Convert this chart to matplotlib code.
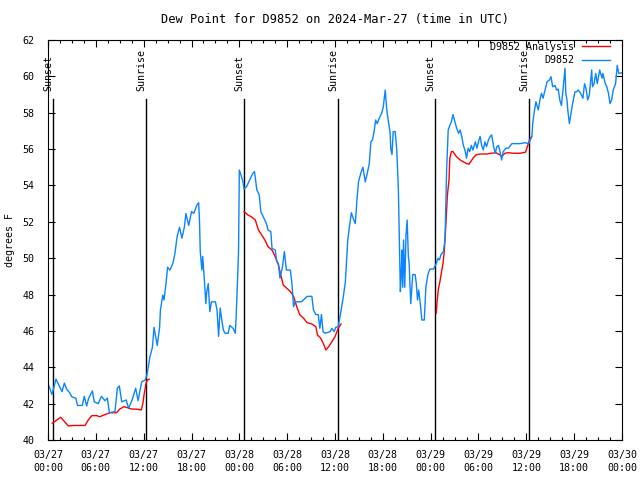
import matplotlib
matplotlib.use('Agg')
import matplotlib.pyplot as plt
import numpy as np

# hours since 2024-03-27 00:00 UTC
obs_hours = [0.0, 0.5, 1.0, 1.5, 1.76, 2.05, 2.34, 2.76, 2.97, 3.5, 3.7, 4.3, 4.55, 4.85, 5.1,
             5.57, 5.8, 6.3, 6.7, 7.15, 7.45, 7.7, 8.4, 8.7, 8.95, 9.25, 9.8, 10.1, 10.5, 11.0,
             11.3, 11.75, 12.2, 12.4, 12.8, 13.1, 13.3, 13.7, 14.0, 14.1, 14.4, 14.55, 14.8, 15.0,
             15.3, 15.65, 15.9, 16.2, 16.5, 16.8, 17.1, 17.3, 17.65, 18.0, 18.3, 18.65, 18.9, 19.0,
             19.1, 19.3, 19.4, 19.6, 19.8, 19.9, 20.1, 20.3, 20.5, 21.0, 21.2, 21.4, 21.6, 21.8,
             22.0, 22.2, 22.6, 22.8, 23.2, 23.5, 23.6, 23.75, 23.9, 24.0, 24.2, 24.4, 24.6, 24.9,
             25.3, 25.7, 25.9, 26.2, 26.5, 26.7, 27.0, 27.4, 27.6, 27.95, 28.1, 28.5, 28.7, 28.9,
             29.1, 29.4, 29.65, 29.9, 30.4, 30.6, 30.8, 31.0, 31.8, 32.5, 33.1, 33.3, 33.6, 33.9,
             34.1, 34.3, 34.5, 34.75, 35.4, 35.6, 35.9, 36.1, 36.4, 36.7, 37.05, 37.3, 37.45, 37.6,
             37.8, 38.05, 38.35, 38.55, 38.75, 38.95, 39.25, 39.5, 39.8, 40.05, 40.3, 40.5, 40.7,
             40.9, 41.1, 41.3, 41.55, 41.85, 42.05, 42.3, 42.5, 42.7, 42.9, 43.0, 43.15, 43.3,
             43.55, 43.75, 43.95, 44.1, 44.2, 44.3, 44.4, 44.5, 44.6, 44.75, 44.9, 45.05, 45.2,
             45.3, 45.5, 45.75, 46.05, 46.2, 46.35, 46.5, 46.7, 46.9, 47.2, 47.4, 47.65, 47.9,
             48.35, 48.7, 48.9, 49.1, 49.3, 49.6, 49.8, 50.0, 50.2, 50.4, 50.6, 50.8, 51.1, 51.3,
             51.5, 51.7, 51.9, 52.1, 52.3, 52.5, 52.7, 52.9, 53.1, 53.3, 53.6, 53.8, 54.0, 54.2,
             54.4, 54.6, 54.8, 55.0, 55.25, 55.45, 55.65, 55.9, 56.1, 56.3, 56.5, 56.7, 56.9, 57.1,
             57.45, 57.75, 58.2, 58.8, 59.2, 59.85, 60.3, 60.5, 60.7, 60.8, 61.0, 61.1, 61.2, 61.5,
             61.7, 61.9, 62.1, 62.35, 62.6, 62.9, 63.1, 63.3, 63.6, 63.8, 64.0, 64.2, 64.4, 64.6,
             64.85, 64.95, 65.1, 65.2, 65.4, 65.6, 65.8, 66.1, 66.3, 66.5, 66.8, 67.1, 67.3, 67.5,
             67.7, 67.9, 68.2, 68.3, 68.5, 68.7, 68.9, 69.2, 69.5, 69.6, 69.9, 70.1, 70.3, 70.5,
             70.7, 70.9, 71.2, 71.4, 71.6, 72.0]
obs_dewpt = [43.1, 42.5, 43.35, 42.9, 42.66, 43.13, 42.8, 42.57, 42.38, 42.3, 41.9, 41.9, 42.4,
             41.87, 42.3, 42.7, 42.1, 42.0, 42.4, 42.16, 42.3, 41.5, 41.56, 42.85, 42.97, 42.1,
             42.2, 41.75, 42.14, 42.85, 42.16, 43.2, 43.3, 43.57, 44.6, 45.1, 46.2, 45.2, 46.2,
             47.15, 47.97, 47.7, 48.6, 49.5, 49.35, 49.7, 50.2, 51.2, 51.7, 51.1, 51.7, 52.45,
             51.8, 52.56, 52.47, 52.9, 53.05, 52.1, 50.36, 49.35, 50.1, 48.9, 47.5, 48.1, 48.6,
             47.06, 47.6, 47.6, 47.15, 45.7, 47.26, 46.6, 46.05, 45.87, 45.87, 46.3, 46.15, 45.87,
             46.8, 48.5, 50.36, 54.85, 54.57, 54.3, 53.8, 53.93, 54.3, 54.67, 54.76, 53.75, 53.47,
             52.56, 52.28, 51.9, 51.55, 51.46, 50.54, 50.45, 49.8, 49.7, 48.9, 49.5, 50.36, 49.35,
             49.35, 48.6, 47.33, 47.6, 47.6, 47.9, 47.9, 47.15, 46.9, 46.9, 46.14, 46.9, 45.96,
             45.87, 45.96, 46.14, 45.96, 46.2, 46.23, 46.97, 47.9, 48.7, 49.8, 51.0, 51.7, 52.5,
             52.1, 51.9, 53.2, 54.2, 54.7, 55.0, 54.2, 54.67, 55.2, 56.4, 56.5, 56.96, 57.6, 57.4,
             57.7, 57.97, 58.3, 59.25, 58.15, 57.5, 56.96, 56.0, 55.7, 56.96, 56.96, 55.95, 53.75,
             50.45, 48.16, 48.98, 50.45, 48.4, 51.0, 48.4, 51.2, 52.1, 50.1, 49.7, 47.5, 49.1,
             49.1, 48.6, 47.7, 48.25, 47.5, 46.6, 46.6, 48.4, 49.1, 49.4, 49.4, 49.7, 50.0, 49.9,
             50.2, 50.36, 51.0, 54.85, 57.05, 57.3, 57.5, 57.9, 57.4, 57.1, 56.87, 57.05, 56.7,
             56.2, 55.95, 55.5, 56.05, 55.86, 56.2, 55.95, 56.4, 56.05, 56.4, 56.7, 56.2, 55.95,
             56.4, 56.13, 56.5, 56.68, 56.78, 56.13, 55.77, 56.13, 56.2, 55.86, 55.4, 55.86, 56.05,
             56.05, 56.3, 56.3, 56.3, 56.35, 56.3, 56.5, 56.7, 57.4, 58.06, 58.33, 58.6, 58.15,
             58.7, 59.07, 58.8, 59.25, 59.7, 59.8, 59.98, 59.43, 59.5, 59.25, 59.3, 58.7, 58.4,
             59.25, 60.45, 59.07, 58.7, 58.15, 57.4, 57.97, 58.5, 59.15, 59.15, 59.25, 59.07, 58.8,
             59.6, 59.3, 58.7, 58.98, 60.35, 59.43, 59.6, 60.16, 59.6, 60.35, 59.9, 60.16, 59.6,
             59.43, 59.07, 58.5, 58.7, 59.25, 59.6, 60.6, 60.16, 60.2]

# analysis, only shown for the night periods
ana1_hours = [0.54, 1.1, 1.6, 2.1, 2.55, 3.2, 4.65, 5.05, 5.5, 6.1, 6.5, 7.15, 7.8, 8.6, 9.0, 9.5,
              9.95, 10.5, 11.1, 11.7, 11.9, 12.05, 12.3, 12.45, 12.7]
ana1_dewpt = [40.92, 41.1, 41.25, 41.0, 40.77, 40.8, 40.8, 41.1, 41.34, 41.34, 41.28, 41.4, 41.5,
              41.5, 41.7, 41.83, 41.78, 41.7, 41.7, 41.65, 42.0, 42.5, 43.1, 43.3, 43.34]
ana2_hours = [24.6, 25.1, 25.5, 26.0, 26.4, 26.8, 27.2, 27.6, 28.1, 28.5, 28.9, 29.2, 29.5, 29.95,
              30.4, 30.8, 31.2, 31.6, 32.05, 32.5, 33.1, 33.6, 33.8, 34.2, 34.55, 34.85, 35.2,
              35.6, 36.0, 36.4, 36.75]
ana2_dewpt = [52.56, 52.37, 52.28, 52.1, 51.55, 51.28, 51.0, 50.63, 50.45, 50.08, 49.63, 49.08,
              48.53, 48.35, 48.16, 47.9, 47.33, 46.88, 46.7, 46.45, 46.38, 46.23, 45.78, 45.6,
              45.3, 44.95, 45.13, 45.4, 45.68, 46.14, 46.38]
ana3_hours = [48.7, 48.8, 48.95, 49.2, 49.4, 49.55, 49.7, 49.9, 50.1, 50.3, 50.4, 50.6, 50.8, 51.2,
              51.7, 52.1, 52.5, 52.8, 53.1, 53.4, 53.7, 54.2, 55.0, 55.6, 56.2, 56.7, 56.9, 57.3,
              57.75, 58.4, 59.2, 59.9, 60.1, 60.4, 60.65]
ana3_dewpt = [46.97, 47.6, 48.25, 48.8, 49.35, 49.7, 50.36, 51.8, 53.47, 54.3, 55.5, 55.86, 55.86,
              55.6, 55.4, 55.3, 55.2, 55.17, 55.36, 55.55, 55.68, 55.73, 55.73, 55.77, 55.8,
              55.68, 55.58, 55.77, 55.8, 55.77, 55.77, 55.83, 56.1, 56.5, 56.68]

sun_hours = [0.63, 12.29, 24.59, 36.38, 48.55, 60.34]
sun_labels = ['Sunset', 'Sunrise', 'Sunset', 'Sunrise', 'Sunset', 'Sunrise']

tick_hours = list(range(0, 73, 6))
tick_labels = ['03/27\n00:00', '03/27\n06:00', '03/27\n12:00', '03/27\n18:00',
               '03/28\n00:00', '03/28\n06:00', '03/28\n12:00', '03/28\n18:00',
               '03/29\n00:00', '03/29\n06:00', '03/29\n12:00', '03/29\n18:00',
               '03/30\n00:00']

plt.rcParams['font.family'] = 'DejaVu Sans Mono'
plt.rcParams['font.size'] = 7.2

fig = plt.figure(figsize=(6.4, 4.8), dpi=100)
ax = fig.add_axes([48/640, 40/480, 574/640, 400/480])

for h, lab in zip(sun_hours, sun_labels):
    ax.axvline(h, ymin=0, ymax=0.852, color='black', lw=1.0)
    ax.text(h + 0.05, 0.872, lab, rotation=90, ha='right', va='bottom',
            transform=ax.get_xaxis_transform())

ax.plot(ana1_hours, ana1_dewpt, color='#ff0000', lw=1.0, label='D9852 Analysis')
ax.plot(ana2_hours, ana2_dewpt, color='#ff0000', lw=1.0)
ax.plot(ana3_hours, ana3_dewpt, color='#ff0000', lw=1.0)
ax.plot(obs_hours, obs_dewpt, color='#0a84ff', lw=1.0, label='D9852')

ax.set_xlim(0, 72)
ax.set_ylim(40, 62)
ax.set_xticks(tick_hours)
ax.set_xticklabels(tick_labels, linespacing=1.4)
ax.set_xticks(np.arange(0, 72.1, 1.5), minor=True)
ax.set_yticks(range(40, 63, 2))
ax.tick_params(which='both', direction='in', top=True, right=True, width=0.8)
ax.tick_params(which='major', length=5)
ax.tick_params(which='minor', length=2.5)
ax.tick_params(axis='y', pad=10)
ax.tick_params(axis='x', pad=7)
for s in ax.spines.values():
    s.set_linewidth(0.8)

ax.set_ylabel('degrees F')
ax.yaxis.set_label_coords(-0.058, 0.5)
ax.set_title('Dew Point for D9852 on 2024-Mar-27 (time in UTC)', pad=12)

ax.legend(loc='upper right', bbox_to_anchor=(0.979, 0.995), frameon=False,
          markerfirst=False, handlelength=2.8, handletextpad=0.8, borderpad=0,
          borderaxespad=0, labelspacing=0.35)

fig.savefig('out.png', dpi=100)
